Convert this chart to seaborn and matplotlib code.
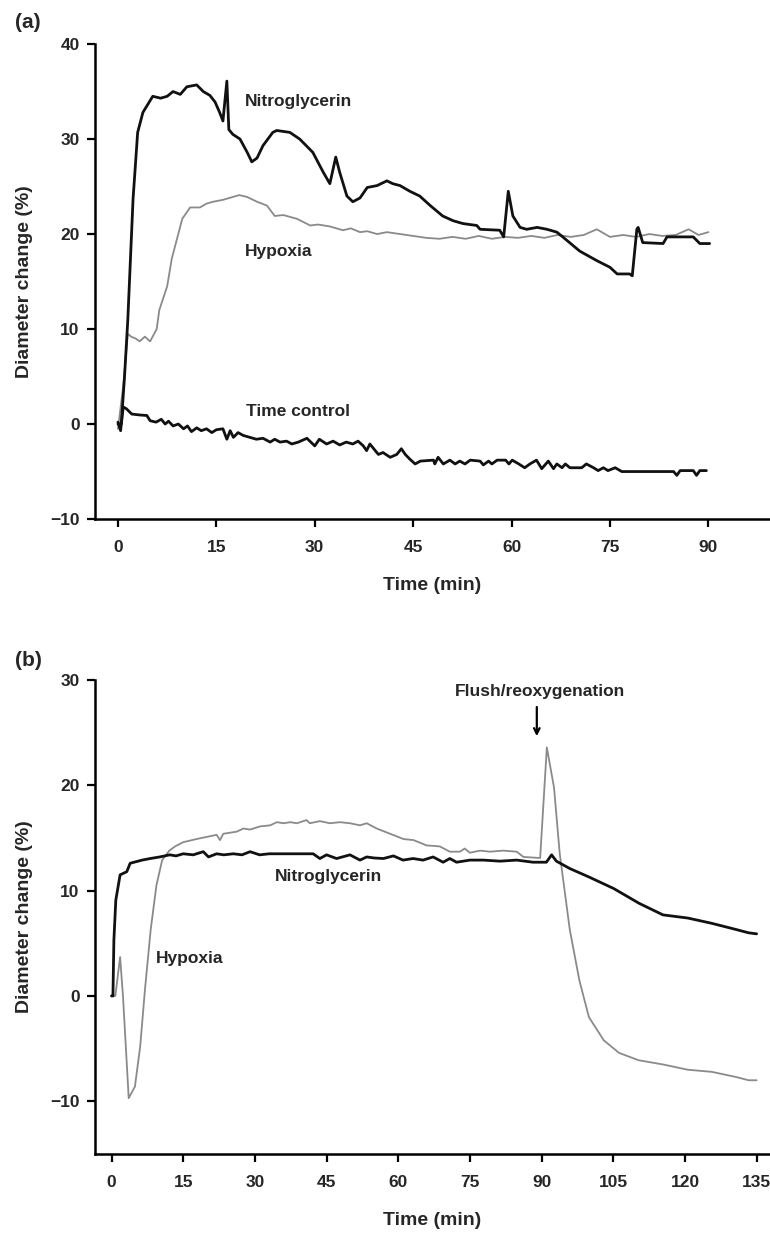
import matplotlib
matplotlib.use("Agg")
import matplotlib.pyplot as plt
import seaborn as sns
from matplotlib import font_manager

# panel (a): 90 min protocol
nitro_a_t = [0, 0.5, 1.0, 1.5, 2.3, 3.0, 3.8, 5.3, 6.5, 7.5,
             8.4, 9.5, 10.5, 12.0, 13.0, 14.0, 14.8, 15.5, 16.0, 16.6,
             16.9, 17.5, 18.6, 19.7, 20.4, 21.2, 22.1, 23.6, 24.2, 26.2,
             27.7, 29.7, 31.3, 32.3, 33.2, 33.8, 34.9, 35.8, 36.9, 38.0,
             39.5, 41.0, 41.9, 43.0, 44.5, 46.0, 47.6, 49.5, 51.1, 52.6,
             54.7, 55.2, 58.2, 58.8, 59.5, 60.2, 61.3, 62.3, 63.9, 65.4,
             66.9, 67.8, 70.4, 73.0, 75.0, 76.1, 78.0, 78.4, 79.1, 79.3,
             80.0, 83.1, 83.7, 87.7, 88.7, 90.2]
nitro_a_v = [0.0, 0.0, 5.0, 11.0, 23.7, 30.7, 32.8, 34.5, 34.3, 34.5,
             35.0, 34.7, 35.5, 35.7, 35.0, 34.6, 33.9, 32.8, 31.9, 36.1,
             31.0, 30.5, 30.0, 28.6, 27.6, 28.0, 29.3, 30.7, 30.9, 30.7,
             30.0, 28.6, 26.5, 25.3, 28.1, 26.5, 24.0, 23.4, 23.8, 24.9,
             25.1, 25.6, 25.3, 25.1, 24.5, 24.0, 23.0, 21.9, 21.4, 21.1,
             20.9, 20.5, 20.4, 19.7, 24.5, 21.9, 20.7, 20.5, 20.7, 20.5,
             20.2, 19.7, 18.2, 17.2, 16.5, 15.8, 15.8, 15.6, 20.5, 20.7,
             19.1, 19.0, 19.7, 19.7, 19.0, 19.0]

hyp_a_t = [0, 0.8, 1.5, 2.0, 2.7, 3.3, 4.1, 4.9, 5.9, 6.3,
           7.5, 8.2, 9.0, 9.8, 11.0, 12.5, 13.5, 14.5, 16.0, 17.5,
           18.5, 19.7, 21.2, 22.7, 23.9, 25.2, 27.3, 29.3, 30.5, 32.3,
           34.3, 35.5, 36.9, 38.0, 39.5, 41.0, 43.0, 45.0, 47.0, 49.0,
           51.0, 53.0, 55.0, 57.0, 59.0, 61.0, 63.0, 65.0, 67.0, 69.0,
           71.0, 73.0, 75.0, 77.0, 79.0, 81.0, 83.0, 85.0, 87.0, 88.5,
           90.0]
hyp_a_v = [-0.5, 4.0, 9.5, 9.2, 9.0, 8.7, 9.2, 8.7, 10.0, 12.0,
           14.5, 17.4, 19.5, 21.6, 22.8, 22.8, 23.2, 23.4, 23.6, 23.9,
           24.1, 23.9, 23.4, 23.0, 21.9, 22.0, 21.6, 20.9, 21.0, 20.8,
           20.4, 20.6, 20.2, 20.3, 20.0, 20.2, 20.0, 19.8, 19.6, 19.5,
           19.7, 19.5, 19.8, 19.5, 19.7, 19.6, 19.8, 19.6, 19.9, 19.7,
           19.9, 20.5, 19.7, 19.9, 19.7, 20.0, 19.8, 19.9, 20.5, 19.9,
           20.2]

ctrl_a_t = [0, 0.4, 0.8, 1.3, 2.1, 3.4, 4.4, 4.9, 5.8, 6.6,
            7.2, 7.7, 8.4, 9.2, 10.0, 10.6, 11.2, 12.0, 12.7, 13.5,
            14.3, 15.0, 16.0, 16.6, 17.1, 17.6, 18.3, 19.1, 20.1, 21.1,
            22.1, 23.2, 23.9, 24.7, 25.7, 26.5, 27.5, 28.8, 30.0, 30.7,
            31.8, 32.8, 33.8, 34.8, 35.8, 36.6, 37.4, 37.9, 38.4, 39.7,
            40.4, 41.5, 42.5, 43.2, 43.8, 44.5, 45.3, 46.1, 48.1, 48.3,
            48.8, 49.6, 50.6, 51.4, 52.1, 52.9, 53.7, 55.2, 55.7, 56.5,
            57.0, 57.8, 59.1, 59.6, 60.1, 61.1, 62.0, 62.8, 63.8, 64.6,
            65.6, 66.4, 66.9, 67.7, 68.2, 68.9, 70.7, 71.4, 72.5, 73.2,
            74.0, 74.7, 75.8, 76.8, 84.7, 85.2, 85.7, 87.7, 88.2, 88.7,
            89.7]
ctrl_a_v = [0.2, -0.7, 1.8, 1.6, 1.05, 0.95, 0.9, 0.35, 0.2, 0.5,
            0.0, 0.3, -0.2, 0.0, -0.5, -0.2, -0.8, -0.4, -0.7, -0.5,
            -0.9, -0.6, -0.5, -1.6, -0.7, -1.4, -0.9, -1.2, -1.4, -1.6,
            -1.5, -1.9, -1.6, -1.9, -1.8, -2.1, -1.9, -1.5, -2.3, -1.6,
            -2.1, -1.8, -2.2, -1.9, -2.1, -1.8, -2.3, -2.8, -2.1, -3.2,
            -3.0, -3.5, -3.2, -2.6, -3.2, -3.7, -4.2, -3.9, -3.8, -4.2,
            -3.5, -4.2, -3.8, -4.2, -3.9, -4.2, -3.8, -3.9, -4.3, -3.9,
            -4.2, -3.8, -3.8, -4.2, -3.8, -4.2, -4.6, -4.2, -3.8, -4.7,
            -3.9, -4.7, -4.2, -4.6, -4.2, -4.6, -4.6, -4.2, -4.6, -4.9,
            -4.6, -4.9, -4.6, -5.0, -5.0, -5.4, -4.9, -4.9, -5.4, -4.9,
            -4.9]

# panel (b): 135 min protocol, flush at 90 min
nitro_b_t = [0, 0.3, 0.5, 0.9, 1.8, 3.2, 3.9, 6.4, 8.1, 10.1,
             12.2, 13.5, 15.0, 17.1, 19.2, 20.3, 22.0, 23.5, 25.5, 27.3,
             29.0, 31.0, 33.0, 36.0, 39.0, 42.2, 43.6, 45.0, 47.1, 49.9,
             52.0, 53.4, 55.0, 56.9, 59.0, 61.0, 63.1, 65.2, 67.3, 69.4,
             70.8, 72.2, 75.0, 77.8, 81.3, 84.8, 88.2, 91.0, 92.1, 93.1,
             95.9, 99.9, 105.1, 110.4, 115.4, 120.6, 125.6, 130.8, 133.3, 135.0]
nitro_b_v = [0.0, 0.0, 5.3, 9.1, 11.5, 11.8, 12.6, 12.9, 13.05, 13.2,
             13.4, 13.3, 13.5, 13.4, 13.7, 13.2, 13.5, 13.4, 13.5, 13.4,
             13.7, 13.4, 13.5, 13.5, 13.5, 13.5, 13.05, 13.4, 13.05, 13.4,
             12.9, 13.2, 13.1, 13.05, 13.3, 12.9, 13.05, 12.9, 13.2, 12.7,
             13.05, 12.7, 12.9, 12.9, 12.8, 12.9, 12.7, 12.7, 13.4, 12.8,
             12.1, 11.3, 10.2, 8.8, 7.7, 7.4, 6.9, 6.3, 6.0, 5.9]

hyp_b_t = [0, 0.8, 1.8, 2.4, 3.6, 4.9, 6.0, 7.0, 8.2, 9.4,
           10.6, 12.1, 13.3, 15.0, 17.8, 19.9, 22.0, 22.7, 23.4, 26.2,
           27.6, 29.0, 31.1, 33.2, 34.6, 36.0, 37.4, 38.8, 40.8, 41.5,
           43.6, 45.7, 47.8, 49.9, 52.0, 53.4, 55.5, 58.3, 61.1, 63.2,
           65.9, 68.7, 70.8, 72.9, 73.9, 75.0, 77.1, 79.2, 82.0, 84.8,
           86.2, 89.7, 91.1, 92.6, 93.8, 95.9, 97.9, 99.9, 103.0, 106.2,
           110.3, 115.4, 120.6, 125.6, 130.8, 133.3, 135.0]
hyp_b_v = [0.0, 0.0, 3.7, 0.0, -9.7, -8.6, -4.8, 0.6, 6.3, 10.5,
           12.9, 13.8, 14.2, 14.6, 14.9, 15.1, 15.3, 14.8, 15.4, 15.6,
           15.9, 15.8, 16.1, 16.2, 16.5, 16.4, 16.5, 16.4, 16.7, 16.4,
           16.6, 16.4, 16.5, 16.4, 16.2, 16.4, 15.9, 15.4, 14.9, 14.8,
           14.3, 14.2, 13.7, 13.7, 14.0, 13.6, 13.8, 13.7, 13.8, 13.7,
           13.2, 13.1, 23.6, 19.8, 13.5, 6.3, 1.5, -2.0, -4.2, -5.4,
           -6.1, -6.5, -7.0, -7.2, -7.7, -8.0, -8.0]

sns.set_style("ticks")
names = {f.name for f in font_manager.fontManager.ttflist}
fam = "Liberation Sans Narrow" if "Liberation Sans Narrow" in names else "Liberation Sans"
plt.rcParams["font.family"] = [fam, "DejaVu Sans"]
plt.rcParams["font.weight"] = "bold"

BLACK = "#111111"
GREY = "#8a8a8a"

fig = plt.figure(figsize=(7.7, 12.37), dpi=100)
ax1 = fig.add_axes([0.1234, 0.5804, 0.8766, 0.384])
ax2 = fig.add_axes([0.1234, 0.0671, 0.8766, 0.3832])

sns.lineplot(x=hyp_a_t, y=hyp_a_v, ax=ax1, color=GREY, lw=1.3, estimator=None, sort=False)
sns.lineplot(x=nitro_a_t, y=nitro_a_v, ax=ax1, color=BLACK, lw=2.0, estimator=None, sort=False)
sns.lineplot(x=ctrl_a_t, y=ctrl_a_v, ax=ax1, color=BLACK, lw=2.0, estimator=None, sort=False)

sns.lineplot(x=hyp_b_t, y=hyp_b_v, ax=ax2, color=GREY, lw=1.3, estimator=None, sort=False)
sns.lineplot(x=nitro_b_t, y=nitro_b_v, ax=ax2, color=BLACK, lw=2.0, estimator=None, sort=False)

ax1.set_xlim(-3.5, 99.4)
ax1.set_ylim(-10, 40)
ax1.set_xticks(range(0, 91, 15))
ax1.set_yticks(range(-10, 41, 10))

ax2.set_xlim(-3.45, 137.8)
ax2.set_ylim(-15, 30)
ax2.set_xticks(range(0, 136, 15))
ax2.set_yticks(range(-10, 31, 10))

for ax in (ax1, ax2):
    sns.despine(ax=ax)
    for side in ("left", "bottom"):
        ax.spines[side].set_linewidth(1.8)
        ax.spines[side].set_color("black")
    ax.tick_params(axis="both", length=6, width=1.6, color="black", labelsize=12.5)
    ax.tick_params(axis="x", pad=9)
    ax.tick_params(axis="y", pad=5)
    ax.set_xlabel("Time (min)", fontsize=14, fontweight="bold")
    ax.set_ylabel("Diameter change (%)", fontsize=14, fontweight="bold")
    ax.xaxis.set_label_coords(0.5, -0.122)
    ax.yaxis.set_label_coords(-0.092, 0.5)

ax1.text(19.4, 34, "Nitroglycerin", fontsize=12.5, fontweight="bold", va="center")
ax1.text(19.4, 18.2, "Hypoxia", fontsize=12.5, fontweight="bold", va="center")
ax1.text(19.5, 1.3, "Time control", fontsize=12.5, fontweight="bold", va="center")

ax2.text(89.7, 28.9, "Flush/reoxygenation", fontsize=12.5, fontweight="bold", ha="center", va="center")
ax2.annotate("", xy=(89.0, 24.4), xytext=(89.0, 27.7),
             arrowprops=dict(arrowstyle="->", color="black", lw=1.6))
ax2.text(34.2, 11.3, "Nitroglycerin", fontsize=12.5, fontweight="bold", va="center")
ax2.text(9.3, 3.6, "Hypoxia", fontsize=12.5, fontweight="bold", va="center")

fig.text(0.02, 1 - 23 / 1237, "(a)", fontsize=15, fontweight="bold", va="center")
fig.text(0.02, 1 - 660 / 1237, "(b)", fontsize=15, fontweight="bold", va="center")

fig.savefig("out.png", dpi=100)
